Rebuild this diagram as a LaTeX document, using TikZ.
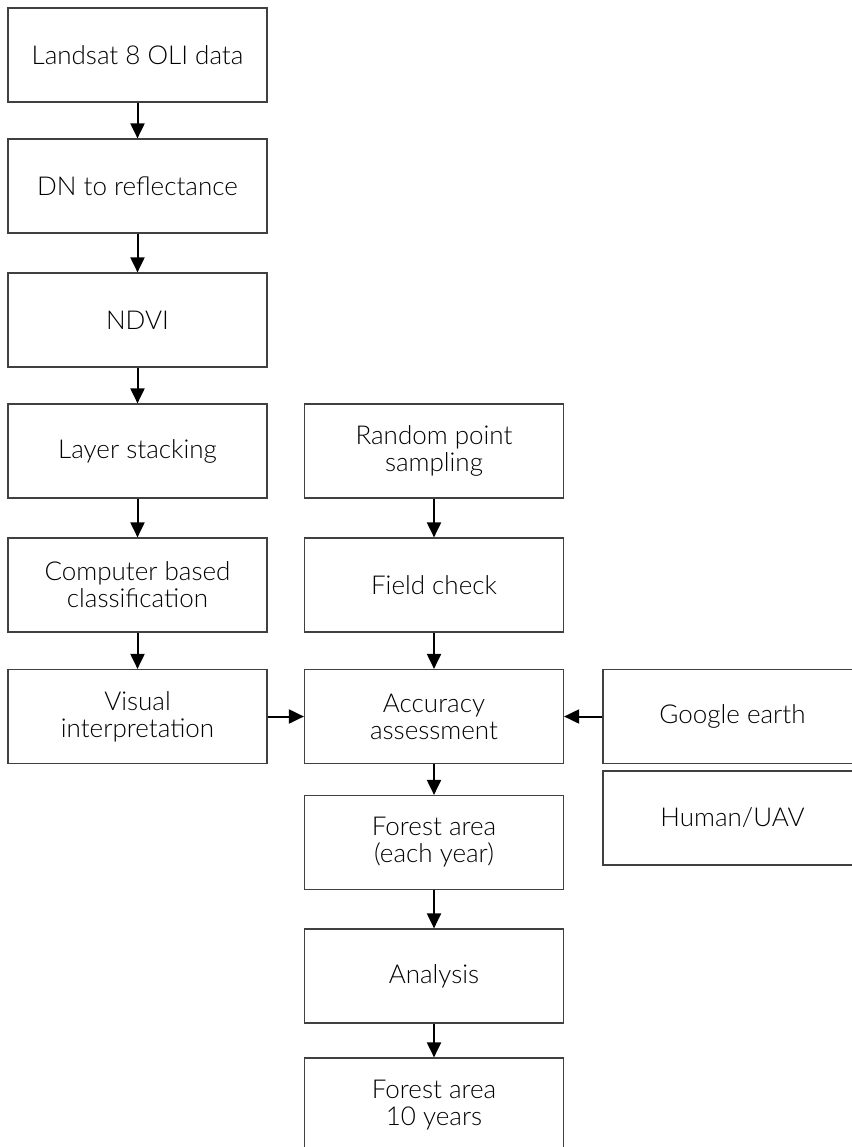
\documentclass[tikz,border=0pt]{standalone}
\usepackage{fontspec}
\setmainfont{Lato}[UprightFont={* Light}]
\usetikzlibrary{shapes,arrows.meta,positioning}

\begin{document}
\begin{tikzpicture}[x=1pt, y=-1pt,
    box/.style={rectangle, draw=black!75, line width=1.2pt, minimum width=259pt, minimum height=94pt, inner sep=2pt, align=center, font=\fontsize{26}{27}\selectfont, text=black},
    arrow/.style={-{Triangle[length=15pt, width=14pt]}, line width=2pt}
]
    \useasboundingbox (0,0) rectangle (851,1147);
    % left column
    \node[box] (landsat) at (137.5,55) {Landsat 8 OLI data};
    \node[box] (dn) at (137.5,186) {DN to reflectance};
    \node[box] (ndvi) at (137.5,320) {NDVI};
    \node[box] (stack) at (137.5,451) {Layer stacking};
    \node[box] (classify) at (137.5,585) {Computer based\\classification};
    \node[box] (visual) at (137.5,716.5) {Visual\\interpretation};
    % middle column
    \node[box] (sampling) at (434,451) {Random point\\sampling};
    \node[box] (field) at (434,585) {Field check};
    \node[box] (accuracy) at (434,716.5) {Accuracy\\assessment};
    \node[box] (yearly) at (434,842.5) {Forest area\\(each year)};
    \node[box] (analysis) at (434,976) {Analysis};
    \node[box] (decade) at (434,1105) {Forest area\\10 years};
    % reference data
    \node[box] (google) at (732.5,716.5) {Google earth};
    \node[box] (uav) at (732.5,818) {Human/UAV};

    \draw[arrow] (landsat) -- (dn);
    \draw[arrow] (dn) -- (ndvi);
    \draw[arrow] (ndvi) -- (stack);
    \draw[arrow] (stack) -- (classify);
    \draw[arrow] (classify) -- (visual);
    \draw[arrow] (sampling) -- (field);
    \draw[arrow] (field) -- (accuracy);
    \draw[arrow] (accuracy) -- (yearly);
    \draw[arrow] (yearly) -- (analysis);
    \draw[arrow] (analysis) -- (decade);
    \draw[arrow] (visual) -- (accuracy);
    \draw[arrow] (google) -- (accuracy);
\end{tikzpicture}
\end{document}
